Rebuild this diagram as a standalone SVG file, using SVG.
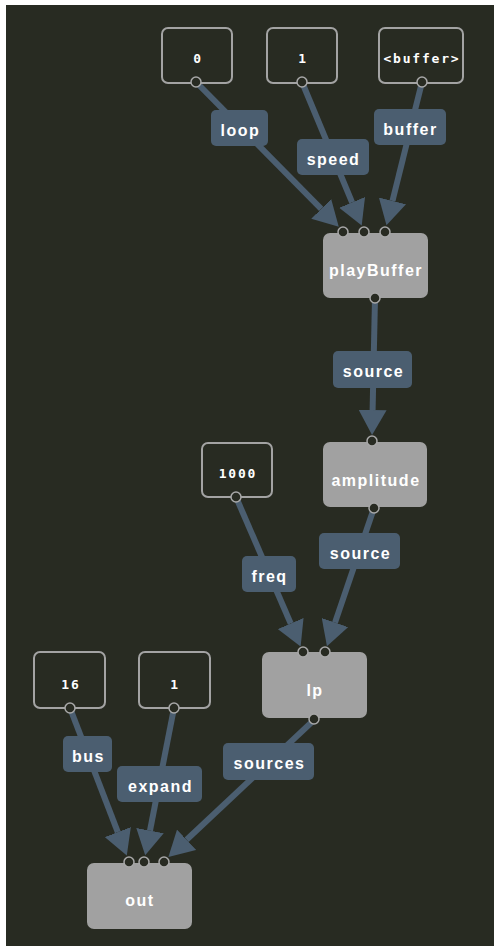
<svg xmlns="http://www.w3.org/2000/svg" width="494" height="952" viewBox="0 0 494 952">
<style>
.bg{fill:#282b22}
.e{stroke:#4b5e70;stroke-width:6;fill:none}
.lb rect{fill:#4b5e70}
.lt{font-family:"Liberation Sans",Arial,sans-serif;font-weight:bold;font-size:16px;letter-spacing:1.5px;fill:#ffffff;text-anchor:middle}
.cb{fill:#282b22;stroke:#a3a3a3;stroke-width:2}
.ct{font-family:"DejaVu Sans Mono","Liberation Mono",monospace;font-weight:bold;font-size:13px;letter-spacing:1.8px;fill:#ffffff;text-anchor:middle}
.nb{fill:#a1a1a1}
.nt{font-family:"Liberation Sans",Arial,sans-serif;font-weight:bold;font-size:16px;letter-spacing:1.5px;fill:#ffffff;text-anchor:middle}
.p{fill:#282b22;stroke:#a8a8a8;stroke-width:1.5}
</style>
<defs>
<marker id="ah" markerUnits="userSpaceOnUse" viewBox="0 -14 25 28" markerWidth="25" markerHeight="28" refX="0" refY="0" orient="auto">
<path d="M0,-14 L25,0 L0,14 z" fill="#4b5e70"/>
</marker>
</defs>
<rect x="0" y="0" width="494" height="952" fill="#ffffff"/>
<rect class="bg" x="6" y="5" width="488" height="941"/>
<g id="connectors">
<line class="e" x1="196" y1="82" x2="321.2" y2="208.9" marker-end="url(#ah)"/>
<line class="e" x1="302" y1="82" x2="352.1" y2="202.4" marker-end="url(#ah)"/>
<line class="e" x1="422" y1="82" x2="392.5" y2="200.9" marker-end="url(#ah)"/>
<line class="e" x1="375" y1="298" x2="372.6" y2="410" marker-end="url(#ah)"/>
<line class="e" x1="236" y1="497" x2="290.7" y2="623.5" marker-end="url(#ah)"/>
<line class="e" x1="374" y1="508" x2="335" y2="622.6" marker-end="url(#ah)"/>
<line class="e" x1="70" y1="708" x2="117.8" y2="832.1" marker-end="url(#ah)"/>
<line class="e" x1="174" y1="708" x2="150" y2="830.6" marker-end="url(#ah)"/>
<line class="e" x1="314" y1="720" x2="186.6" y2="839.8" marker-end="url(#ah)"/>
<g class="lb"><rect x="211" y="110" width="57" height="36" rx="5"/><text class="lt" x="240.5" y="136">loop</text></g>
<g class="lb"><rect x="297" y="139" width="72" height="36" rx="5"/><text class="lt" x="333.5" y="165">speed</text></g>
<g class="lb"><rect x="374" y="109" width="72" height="36" rx="5"/><text class="lt" x="410.5" y="135">buffer</text></g>
<g class="lb"><rect x="333" y="351" width="79" height="37" rx="5"/><text class="lt" x="373.5" y="377">source</text></g>
<g class="lb"><rect x="242" y="556" width="54" height="36" rx="5"/><text class="lt" x="269.5" y="582">freq</text></g>
<g class="lb"><rect x="319" y="533" width="81" height="36" rx="5"/><text class="lt" x="360.5" y="559">source</text></g>
<g class="lb"><rect x="63" y="736" width="49" height="36" rx="5"/><text class="lt" x="88.5" y="762">bus</text></g>
<g class="lb"><rect x="117" y="766" width="85" height="36" rx="5"/><text class="lt" x="160.5" y="792">expand</text></g>
<g class="lb"><rect x="223" y="743" width="91" height="37" rx="5"/><text class="lt" x="269.5" y="769">sources</text></g>
</g>
<g id="const0"><rect class="cb" x="162" y="28" width="70" height="55" rx="6"/><text class="ct" x="198" y="63">0</text><circle class="p" cx="196" cy="82" r="5"/></g>
<g id="const1"><rect class="cb" x="267" y="28" width="70" height="55" rx="6"/><text class="ct" x="303" y="63">1</text><circle class="p" cx="302" cy="82" r="5"/></g>
<g id="constBuffer"><rect class="cb" x="379" y="28" width="84" height="55" rx="6"/><text class="ct" x="422" y="63">&lt;buffer&gt;</text><circle class="p" cx="422" cy="82" r="5"/></g>
<g id="playBuffer"><rect class="nb" x="323" y="233" width="105" height="65" rx="7"/><text class="nt" x="376" y="276">playBuffer</text>
<circle class="p" cx="343" cy="232" r="5"/><circle class="p" cx="364" cy="232" r="5"/><circle class="p" cx="385" cy="232" r="5"/><circle class="p" cx="375" cy="298" r="5"/></g>
<g id="amplitude"><rect class="nb" x="323" y="442" width="104" height="65" rx="7"/><text class="nt" x="376" y="486">amplitude</text>
<circle class="p" cx="372" cy="441" r="5"/><circle class="p" cx="374" cy="508" r="5"/></g>
<g id="const1000"><rect class="cb" x="202" y="443" width="70" height="54" rx="6"/><text class="ct" x="238" y="478">1000</text><circle class="p" cx="236" cy="497" r="5"/></g>
<g id="lp"><rect class="nb" x="262" y="652" width="105" height="66" rx="7"/><text class="nt" x="315" y="696">lp</text>
<circle class="p" cx="303" cy="652" r="5"/><circle class="p" cx="325" cy="652" r="5"/><circle class="p" cx="314" cy="719" r="5"/></g>
<g id="const16"><rect class="cb" x="34" y="652" width="71" height="56" rx="6"/><text class="ct" x="71" y="689">16</text><circle class="p" cx="70" cy="708" r="5"/></g>
<g id="const1b"><rect class="cb" x="139" y="652" width="71" height="56" rx="6"/><text class="ct" x="175" y="689">1</text><circle class="p" cx="174" cy="708" r="5"/></g>
<g id="out"><rect class="nb" x="87" y="863" width="105" height="66" rx="7"/><text class="nt" x="140" y="906">out</text>
<circle class="p" cx="129" cy="862" r="5"/><circle class="p" cx="144" cy="862" r="5"/><circle class="p" cx="164" cy="862" r="5"/></g>
</svg>
